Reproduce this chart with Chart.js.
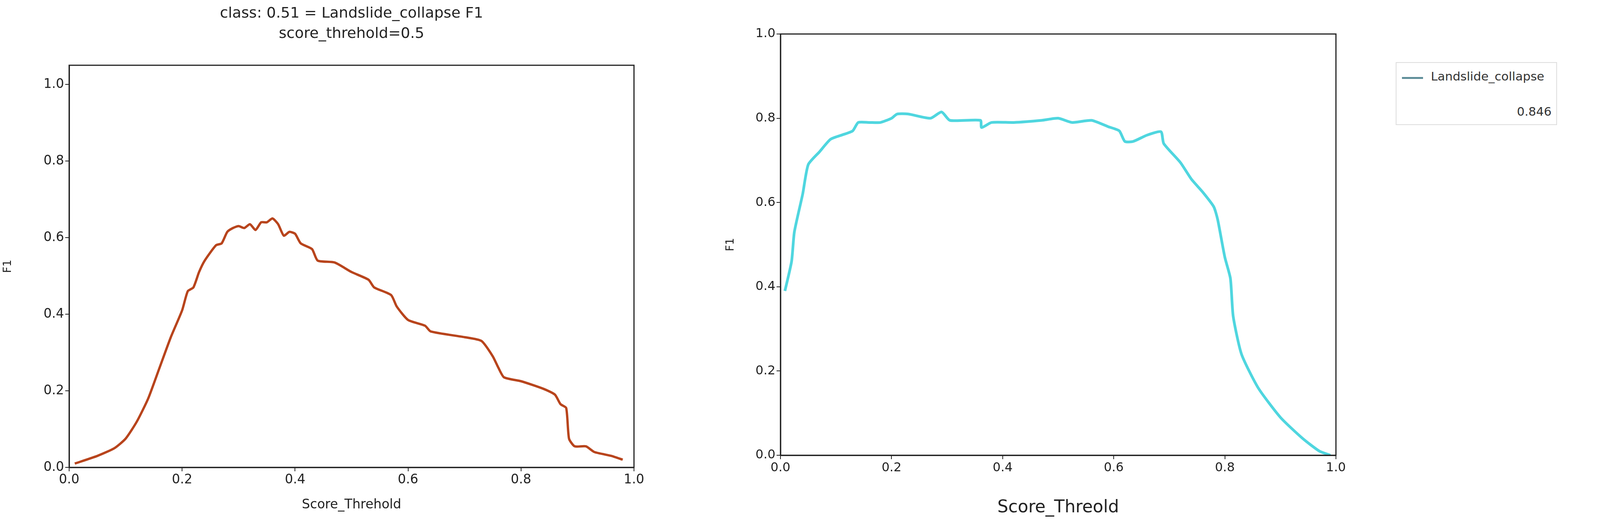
<!DOCTYPE html>
<html>
<head>
<meta charset="utf-8">
<script src="https://cdn.jsdelivr.net/npm/chart.js@4.4.1/dist/chart.umd.min.js"></script>
<style>
  body { margin: 0; background: #fff; font-family: "DejaVu Sans", sans-serif; }
  #wrap { position: relative; width: 4150px; height: 1346px; }
  .cv { position: absolute; top: 0; }
  #title { position: absolute; left: 177px; width: 1446px; top: 6px; text-align: center; font-size: 38px; line-height: 52px; color: #222; }
  #legend { position: absolute; left: 3573px; top: 159px; width: 409px; height: 157px; border: 2px solid #ddd; font-size: 31px; color: #333; }
  #legend .sw { position: absolute; left: 14px; top: 36px; width: 54px; height: 5px; background: #5f8e99; }
  #legend .lb { position: absolute; left: 88px; top: 16px; }
  #legend .val { position: absolute; right: 12px; top: 106px; }
</style>
</head>
<body>
<div id="wrap">
  <canvas id="left" class="cv" style="left:0px"></canvas>
  <canvas id="right" class="cv" style="left:1850px"></canvas>
  <div id="title">class: 0.51 = Landslide_collapse F1<br>score_threhold=0.5</div>
  <div id="legend"><div class="sw"></div><div class="lb">Landslide_collapse</div><div class="val">0.846</div></div>
</div>
<script>
// left panel: F1 vs score threshold
const leftX = [0.01,0.05,0.08,0.1,0.12,0.14,0.16,0.18,0.2,0.21,0.22,0.23,0.24,0.26,0.27,0.28,0.29,0.3,0.31,0.32,0.33,0.34,0.35,0.36,0.37,0.38,0.39,0.4,0.41,0.43,0.44,0.47,0.5,0.53,0.54,0.57,0.58,0.6,0.63,0.64,0.7,0.73,0.75,0.76,0.77,0.8,0.84,0.86,0.87,0.88,0.885,0.895,0.915,0.93,0.96,0.98];
const leftY = [0.01,0.03,0.05,0.075,0.12,0.18,0.26,0.34,0.41,0.46,0.47,0.51,0.54,0.58,0.585,0.615,0.625,0.63,0.625,0.635,0.62,0.64,0.64,0.65,0.635,0.605,0.615,0.61,0.585,0.57,0.54,0.535,0.51,0.49,0.47,0.45,0.42,0.385,0.37,0.355,0.34,0.33,0.29,0.26,0.235,0.225,0.205,0.19,0.165,0.155,0.075,0.055,0.055,0.04,0.03,0.02];

// right panel
const rightX = [0.008,0.02,0.025,0.04,0.05,0.07,0.09,0.11,0.13,0.14,0.16,0.18,0.2,0.21,0.23,0.27,0.29,0.305,0.36,0.362,0.38,0.42,0.47,0.5,0.525,0.56,0.59,0.61,0.62,0.635,0.66,0.685,0.69,0.72,0.74,0.76,0.78,0.787,0.8,0.81,0.815,0.83,0.86,0.9,0.94,0.97,0.99];
const rightY = [0.39,0.46,0.53,0.62,0.69,0.72,0.75,0.76,0.77,0.79,0.79,0.79,0.80,0.81,0.81,0.80,0.815,0.795,0.795,0.778,0.79,0.79,0.795,0.80,0.79,0.795,0.78,0.77,0.745,0.745,0.76,0.768,0.74,0.695,0.655,0.625,0.59,0.56,0.47,0.42,0.33,0.24,0.16,0.09,0.04,0.01,0.0];

const xTicks = [0, 0.2, 0.4, 0.6, 0.8, 1.0];
const yTicks = [0, 0.2, 0.4, 0.6, 0.8, 1.0];

const frame = {
    id: 'frame',
    afterDraw(chart) {
        const a = chart.chartArea, ctx = chart.ctx;
        ctx.save();
        ctx.strokeStyle = '#222';
        ctx.lineWidth = 3;
        ctx.strokeRect(a.left, a.top, a.right - a.left, a.bottom - a.top);
        ctx.restore();
    }
};

function makeChart(id, w, xs, ys, color, lw, yMax, yAxisW, xAxisH, pad, xTitle, tickSize, xTitleSize) {
    const el = document.getElementById(id);
    el.width = w; el.height = 1346;
    el.style.width = w + 'px'; el.style.height = '1346px';
    new Chart(el, {
        type: 'line',
        data: { datasets: [{ data: xs.map((x, i) => ({ x: x, y: ys[i] })), borderColor: color, borderWidth: lw, pointRadius: 0, tension: 0.2 }] },
        options: {
            responsive: false, animation: false, devicePixelRatio: 1,
            layout: { padding: pad },
            plugins: { legend: { display: false }, tooltip: { enabled: false } },
            scales: {
                x: {
                    type: 'linear', min: 0, max: 1,
                    afterBuildTicks: s => { s.ticks = xTicks.map(v => ({ value: v })); },
                    afterFit: s => { s.height = xAxisH; },
                    grid: { drawOnChartArea: false, tickLength: 10, color: '#222', lineWidth: 2 },
                    border: { color: '#222', width: 3 },
                    ticks: { color: '#222', font: { size: tickSize, family: 'DejaVu Sans' }, callback: v => v.toFixed(1), maxRotation: 0 },
                    title: { display: true, text: xTitle, color: '#222', font: { size: xTitleSize, family: 'DejaVu Sans' } }
                },
                y: {
                    min: 0, max: yMax,
                    afterBuildTicks: s => { s.ticks = yTicks.map(v => ({ value: v })); },
                    afterFit: s => { s.width = yAxisW; },
                    grid: { drawOnChartArea: false, tickLength: 10, color: '#222', lineWidth: 2 },
                    border: { color: '#222', width: 3 },
                    ticks: { color: '#222', font: { size: tickSize, family: 'DejaVu Sans' }, callback: v => v.toFixed(1) },
                    title: { display: true, text: 'F1', color: '#222', font: { size: 28, family: 'DejaVu Sans' } }
                }
            }
        },
        plugins: [frame]
    });
}

makeChart('left', 1700, leftX, leftY, '#b8441c', 6, 1.05, 177, 120,
    { top: 167, right: 77, left: 0, bottom: 30 }, 'Score_Threhold', 33, 33);
makeChart('right', 1620, rightX, rightY, '#4fd6df', 7, 1.0, 148, 165,
    { top: 87, right: 50, left: 0, bottom: 16 }, 'Score_Threold', 32, 44);
</script>
</body>
</html>
